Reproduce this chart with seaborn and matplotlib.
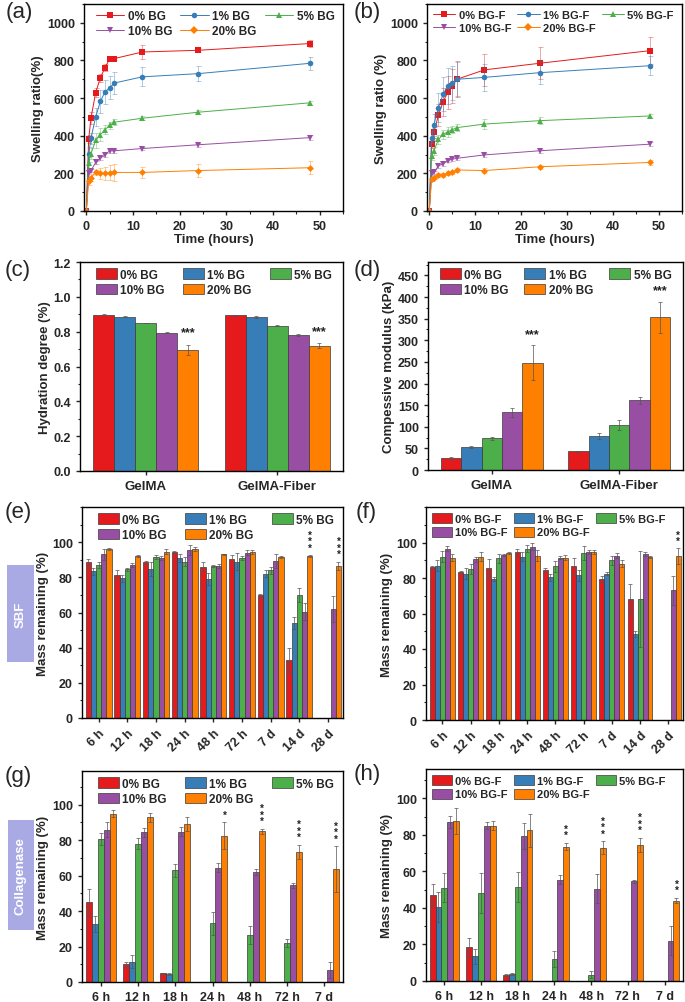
import numpy as np
import pandas as pd
import matplotlib
matplotlib.use("Agg")
import matplotlib.pyplot as plt
from matplotlib.patches import Rectangle, Patch
from matplotlib.lines import Line2D
from matplotlib.ticker import MultipleLocator
import seaborn as sns

sns.set_theme(style="ticks")
plt.rcParams["font.family"] = ["Liberation Sans", "DejaVu Sans"]
plt.rcParams["font.weight"] = "bold"
plt.rcParams["axes.labelweight"] = "bold"

# ---- data ----
colors = ["#e41a1c", "#377eb8", "#4daf4a", "#984ea3", "#ff7f00"]
markers = ["s", "o", "^", "v", "D"]
labels_bg = ["0% BG", "1% BG", "5% BG", "10% BG", "20% BG"]
labels_bgf = ["0% BG-F", "1% BG-F", "5% BG-F", "10% BG-F", "20% BG-F"]

hours = [0, 0.5, 1, 2, 3, 4, 5, 6, 12, 24, 48]

# (a) swelling ratio, BG
swell_a = [
    [0, 383, 494, 629, 707, 762, 808, 810, 845, 854, 890],
    [0, 302, 387, 500, 582, 633, 655, 680, 713, 730, 785],
    [0, 255, 305, 375, 405, 432, 455, 472, 493, 525, 575],
    [0, 200, 215, 258, 280, 298, 320, 320, 332, 352, 390],
    [0, 160, 178, 205, 200, 200, 203, 205, 205, 215, 230],
]
swell_a_err = [
    [0, 20, 30, 25, 20, 20, 10, 10, 35, 10, 20],
    [0, 40, 30, 50, 60, 65, 60, 60, 50, 40, 35],
    [0, 30, 30, 40, 35, 25, 20, 15, 10, 10, 10],
    [0, 15, 10, 10, 10, 10, 10, 10, 10, 10, 12],
    [0, 20, 20, 15, 30, 35, 40, 45, 30, 35, 35],
]
# (b) swelling ratio, BG-F
swell_b = [
    [0, 355, 418, 510, 580, 630, 665, 700, 750, 785, 852],
    [0, 390, 458, 550, 620, 665, 680, 700, 710, 735, 772],
    [0, 290, 320, 380, 408, 420, 432, 443, 462, 480, 505],
    [0, 200, 205, 240, 250, 268, 275, 280, 298, 320, 355],
    [0, 168, 178, 192, 192, 200, 205, 218, 215, 235, 258],
]
swell_b_err = [
    [0, 20, 30, 60, 75, 90, 90, 95, 85, 85, 70],
    [0, 30, 60, 75, 90, 95, 90, 90, 70, 60, 50],
    [0, 20, 20, 25, 25, 25, 20, 20, 25, 20, 12],
    [0, 10, 10, 10, 10, 10, 10, 10, 12, 12, 12],
    [0, 10, 10, 10, 10, 10, 10, 10, 12, 12, 12],
]

materials = ["GelMA", "GelMA-Fiber"]
# (c) hydration degree
hydration = [[0.898, 0.893], [0.885, 0.883], [0.850, 0.833], [0.795, 0.780], [0.695, 0.720]]
hydration_err = [[0.003, 0.005], [0.003, 0.006], [0.002, 0.003], [0.005, 0.006], [0.030, 0.015]]
# (d) compressive modulus
modulus = [[27, 43], [53, 78], [73, 104], [133, 161], [248, 353]]
modulus_err = [[2, 2], [3, 7], [4, 12], [10, 8], [40, 36]]

sbf_days = ["6 h", "12 h", "18 h", "24 h", "48 h", "72 h", "7 d", "14 d", "28 d"]
nan = np.nan
# (e) SBF, BG
sbf_bg = [
    [88.5, 81.5, 88.5, 94.5, 86.0, 90.5, 70.0, 33.0, nan],
    [83.5, 79.5, 85.0, 91.0, 79.0, 89.0, 82.0, 54.0, nan],
    [87.0, 84.5, 91.5, 89.0, 86.5, 91.0, 84.0, 70.0, nan],
    [93.0, 87.0, 91.0, 95.5, 86.5, 94.0, 89.5, 60.5, 62.0],
    [96.0, 92.0, 94.5, 96.0, 93.0, 94.5, 91.5, 92.0, 86.5],
]
sbf_bg_err = [
    [2, 2.5, 1, 0.5, 2.5, 2, 0.5, 7, nan],
    [2, 2, 4, 2, 3.5, 5, 2, 3.5, nan],
    [1.5, 1, 1, 2.5, 0.5, 1, 2, 4, nan],
    [3, 1, 1, 3, 1, 1.5, 4, 5, 7.5],
    [0.5, 0.5, 1.5, 1, 0.5, 1, 0.5, 0.5, 2.5],
]
# (f) SBF, BG-F
sbf_bgf = [
    [86.0, 83.5, 85.5, 94.5, 84.5, 87.0, 79.5, 68.0, nan],
    [87.0, 82.5, 79.5, 92.0, 80.5, 81.5, 82.5, 48.5, nan],
    [92.0, 85.0, 91.0, 96.5, 86.5, 94.0, 90.0, 68.0, nan],
    [96.5, 90.5, 93.0, 97.5, 91.5, 94.5, 92.5, 93.5, 73.0],
    [91.5, 92.0, 94.0, 92.5, 91.5, 94.5, 88.0, 92.0, 92.5],
]
sbf_bgf_err = [
    [0.5, 0.5, 5, 2, 1, 4.5, 1.5, 8.5, nan],
    [3, 3, 1, 2.5, 2, 3, 1, 1.5, nan],
    [3, 3, 2.5, 2, 3, 4, 2.5, 27, nan],
    [1.5, 1.5, 0.5, 2, 1, 1, 1.5, 1, 8],
    [2, 2.5, 0.5, 3, 1.5, 1, 2, 0.5, 4.5],
]

col_days = ["6 h", "12 h", "18 h", "24 h", "48 h", "72 h", "7 d"]
# (g) collagenase, BG
col_bg = [
    [45.0, 10.0, 4.8, nan, nan, nan, nan],
    [32.5, 11.5, 4.7, nan, nan, nan, nan],
    [80.5, 78.0, 63.0, 33.0, 26.5, 22.0, nan],
    [86.0, 84.5, 84.8, 64.5, 62.0, 54.5, 6.5],
    [95.0, 93.0, 89.0, 82.5, 85.0, 73.5, 63.5],
]
col_bg_err = [
    [7.5, 1.5, 0.5, nan, nan, nan, nan],
    [4.5, 3.5, 0.5, nan, nan, nan, nan],
    [3.5, 3, 3.5, 6.5, 5, 2.5, nan],
    [4, 2.5, 2.5, 2.5, 1.5, 1.5, 4.5],
    [2, 2.5, 4, 7.5, 1.5, 4, 13],
]
# (h) collagenase, BG-F
col_bgf = [
    [47.0, 18.5, 3.5, nan, nan, nan, nan],
    [40.5, 13.5, 4.0, nan, nan, nan, nan],
    [51.0, 48.0, 51.5, 12.0, 3.5, nan, nan],
    [87.0, 85.0, 79.5, 55.5, 50.5, 54.5, 22.0],
    [87.5, 85.0, 82.5, 73.5, 73.0, 74.5, 44.0],
]
col_bgf_err = [
    [6, 5, 0.5, nan, nan, nan, nan],
    [8, 4, 0.5, nan, nan, nan, nan],
    [8, 11, 8, 4.5, 2, nan, nan],
    [3.5, 2, 7, 2.5, 8, 1, 8],
    [7, 2.5, 9, 2, 3.5, 4, 1.5],
]

W, H = 685, 1003
fig = plt.figure(figsize=(W / 100, H / 100), dpi=100)


def px_axes(l, t, r, b):
    return fig.add_axes([l / W, 1 - b / H, (r - l) / W, (b - t) / H])


def style_axes(ax):
    for s in ax.spines.values():
        s.set_visible(True)
        s.set_linewidth(1.0)
        s.set_color("black")
    ax.tick_params(which="major", direction="out", length=3, width=1, labelsize=9,
                   top=False, right=False)
    ax.tick_params(which="minor", direction="out", length=1.8, width=0.8,
                   top=False, right=False)
    for t in ax.get_xticklabels() + ax.get_yticklabels():
        t.set_fontweight("bold")


def legend(ax, handles, hl, hh, size, colsp, dx):
    # row-major order: 0 1 5 / 10 20
    order = [0, 3, 1, 4, 2]
    ax.legend([handles[i] for i in order], [handles[i].get_label() for i in order],
              ncol=3, loc="upper left", bbox_to_anchor=(dx, 1.0), frameon=False,
              handlelength=hl, handleheight=hh, handletextpad=0.3,
              columnspacing=colsp, labelspacing=0.25, borderaxespad=0.35,
              borderpad=0.2, prop={"weight": "bold", "size": size})


def swelling_panel(ax, vals, errs, labels, ylabel, leg):
    handles = []
    for i, lab in enumerate(labels):
        sns.lineplot(x=hours, y=vals[i], ax=ax, color=colors[i], marker=markers[i],
                     markersize=4 if markers[i] != "D" else 3.5, markeredgewidth=0,
                     linewidth=0.7, legend=False)
        ax.errorbar(hours, vals[i], yerr=errs[i], fmt="none", ecolor=colors[i],
                    elinewidth=0.5, capsize=1.8, capthick=0.5, alpha=0.55)
        handles.append(Line2D([], [], color=colors[i], marker=markers[i],
                              markersize=4, markeredgewidth=0, linewidth=0.7, label=lab))
    ax.set_xlim(-0.5, 55)
    ax.set_ylim(0, 1100)
    ax.set_yticks(range(0, 1001, 200))
    ax.set_xticks(range(0, 51, 10))
    ax.yaxis.set_minor_locator(MultipleLocator(100))
    ax.xaxis.set_minor_locator(MultipleLocator(5))
    ax.set_xlabel("Time (hours)", fontsize=9.5, fontweight="bold", labelpad=1)
    ax.set_ylabel(ylabel, fontsize=9.5, fontweight="bold", labelpad=2)
    style_axes(ax)
    legend(ax, handles, leg[0], 0.7, leg[1], leg[2], leg[3])


def bar_panel(ax, cats, vals, errs, labels, width, leg):
    rows = []
    for i, lab in enumerate(labels):
        for j, c in enumerate(cats):
            if not np.isnan(vals[i][j]):
                rows.append((c, lab, vals[i][j], errs[i][j]))
    df = pd.DataFrame(rows, columns=["cat", "grp", "val", "err"])
    sns.barplot(data=df, x="cat", y="val", hue="grp", order=cats, hue_order=labels,
                palette=colors, width=width, saturation=1, edgecolor="#3a3a3a",
                linewidth=0.5, errorbar=None, ax=ax, legend=False)
    tops = {}
    for cont, lab in zip(ax.containers, labels):
        sub = df[df.grp == lab].set_index("cat")
        for bar in cont:
            xc = bar.get_x() + bar.get_width() / 2
            cat = cats[int(round(xc))]
            e = sub.loc[cat, "err"]
            ax.errorbar(xc, bar.get_height(), yerr=e, fmt="none", ecolor="#555555",
                        elinewidth=0.5, capsize=1.5, capthick=0.5)
            tops[(cat, lab)] = (xc, bar.get_height() + e)
    ax.set_xlim(-0.5, len(cats) - 0.5)
    ax.set_xlabel("")
    handles = [Patch(facecolor=colors[i], edgecolor="#3a3a3a", linewidth=0.5, label=lab)
               for i, lab in enumerate(labels)]
    legend(ax, handles, 1.8, 1.0, leg[1], leg[2], leg[3])
    return tops


def stars(ax, tops, cat, lab, n, off, stacked=True, size=7):
    x, y = tops[(cat, lab)]
    txt = "\n".join(["*"] * n) if stacked else "*" * n
    ax.text(x, y + off, txt, ha="center", va="bottom", fontsize=size,
            linespacing=0.55, fontweight="bold", color="#222222")


# legend settings: handle length, font size, column spacing, x offset
leg_left_line = (2.4, 8.5, 0.7, 0.02)
leg_right_line = (2.0, 8, 0.55, 0.0)
leg_left_bar = (1.8, 8.5, 1.5, 0.035)
leg_right_bar = (1.8, 8, 0.55, 0.0)

# (a)
ax_a = px_axes(84, 5, 343, 212)
swelling_panel(ax_a, swell_a, swell_a_err, labels_bg, "Swelling ratio(%)", leg_left_line)
# (b)
ax_b = px_axes(427, 5, 682, 212)
swelling_panel(ax_b, swell_b, swell_b_err, labels_bgf, "Swelling ratio (%)", leg_right_line)

# (c)
ax_c = px_axes(80, 263, 343, 472)
tops = bar_panel(ax_c, materials, hydration, hydration_err, labels_bg, 0.8, leg_left_bar)
ax_c.set_ylim(0, 1.2)
ax_c.set_yticks(np.arange(0, 1.21, 0.2))
ax_c.set_yticklabels([f"{v:.1f}" for v in np.arange(0, 1.21, 0.2)])
ax_c.yaxis.set_minor_locator(MultipleLocator(0.1))
ax_c.set_ylabel("Hydration degree (%)", fontsize=9.5, fontweight="bold", labelpad=2)
style_axes(ax_c)
ax_c.tick_params(axis="x", labelsize=9.5)
for m in materials:
    stars(ax_c, tops, m, "20% BG", 3, 0.035, stacked=False, size=9)

# (d)
ax_d = px_axes(428, 263, 683, 471)
tops = bar_panel(ax_d, materials, modulus, modulus_err, labels_bg, 0.8,
                 (1.8, 8.5, 1.3, 0.02))
ax_d.set_ylim(0, 481)
ax_d.set_yticks(range(0, 451, 50))
ax_d.yaxis.set_minor_locator(MultipleLocator(25))
ax_d.set_ylabel("Compessive modulus (kPa)", fontsize=9.5, fontweight="bold", labelpad=2)
style_axes(ax_d)
ax_d.tick_params(axis="x", labelsize=9.5)
for m in materials:
    stars(ax_d, tops, m, "20% BG", 3, 12, stacked=False, size=9)


def mass_panel(ax, cats, vals, errs, labels, width, ytop, rot, leg):
    tops = bar_panel(ax, cats, vals, errs, labels, width, leg)
    ax.set_ylim(0, ytop)
    ax.set_yticks(range(0, 101, 20))
    ax.yaxis.set_minor_locator(MultipleLocator(10))
    ax.set_ylabel("Mass remaining (%)", fontsize=9.5, fontweight="bold", labelpad=2)
    style_axes(ax)
    if rot:
        for t in ax.get_xticklabels():
            t.set_rotation(45)
            t.set_ha("right")
            t.set_rotation_mode("anchor")
    return tops


# (e)
ax_e = px_axes(82, 508, 343, 719)
tops = mass_panel(ax_e, sbf_days, sbf_bg, sbf_bg_err, labels_bg, 0.9, 120, True, leg_left_bar)
ax_e.set_xlim(-0.58, 8.52)
stars(ax_e, tops, "14 d", "20% BG", 3, 1.5)
stars(ax_e, tops, "28 d", "20% BG", 3, 1.5)

# (f)
ax_f = px_axes(426, 508, 683, 721)
tops = mass_panel(ax_f, sbf_days, sbf_bgf, sbf_bgf_err, labels_bgf, 0.88, 120, True,
                  leg_right_bar)
ax_f.set_xlim(-0.58, 8.52)
stars(ax_f, tops, "28 d", "20% BG-F", 2, 1.0)

# (g)
ax_g = px_axes(82, 772, 343, 983)
tops = mass_panel(ax_g, col_days, col_bg, col_bg_err, labels_bg, 0.8, 119, False, leg_left_bar)
stars(ax_g, tops, "24 h", "20% BG", 1, 1.5)
for d in ["48 h", "72 h", "7 d"]:
    stars(ax_g, tops, d, "20% BG", 3, 1.5)

# (h)
ax_h = px_axes(426, 770, 683, 982)
tops = mass_panel(ax_h, col_days, col_bgf, col_bgf_err, labels_bgf, 0.8, 116, False,
                  leg_right_bar)
for d, n in [("24 h", 2), ("48 h", 3), ("72 h", 3), ("7 d", 2)]:
    stars(ax_h, tops, d, "20% BG-F", n, 1.5)

# panel letters
for lab, x, y in [("(a)", 6, 2), ("(b)", 354, 2), ("(c)", 5, 260), ("(d)", 354, 260),
                  ("(e)", 5, 502), ("(f)", 356, 502), ("(g)", 5, 766), ("(h)", 354, 764)]:
    fig.text(x / W, 1 - y / H, lab, ha="left", va="top", fontsize=16, fontweight="normal")

# side tags
for txt, x0, y0, x1, y1 in [("SBF", 7, 566, 34, 663), ("Collagenase", 8, 821, 34, 931)]:
    fig.add_artist(Rectangle((x0 / W, 1 - y1 / H), (x1 - x0) / W, (y1 - y0) / H,
                             transform=fig.transFigure, facecolor="#a9a9e4",
                             edgecolor="none"))
    fig.text((x0 + x1) / 2 / W, 1 - (y0 + y1) / 2 / H, txt, rotation=90, ha="center",
             va="center", color="white", fontsize=9.5, fontweight="bold")

fig.savefig("out.png", dpi=100)
